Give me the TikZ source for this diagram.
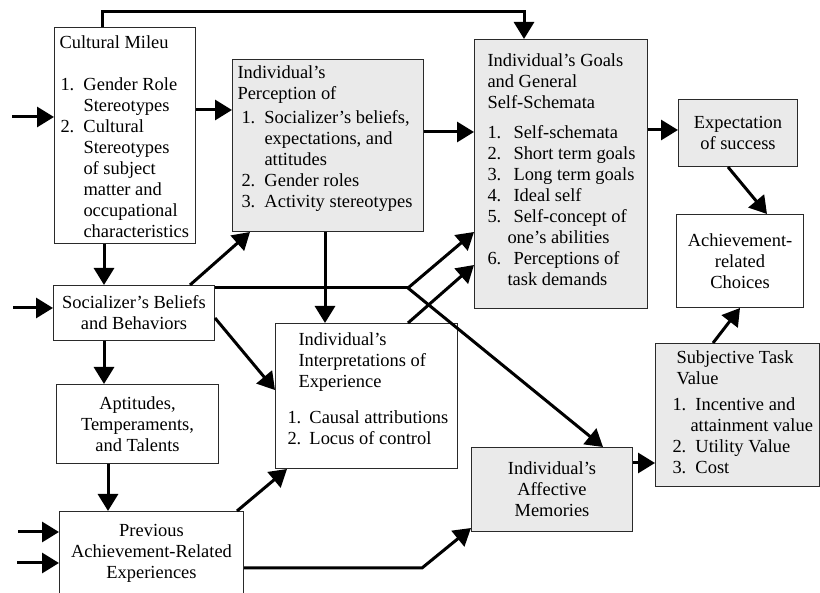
\documentclass[tikz,border=0pt]{standalone}
\usepackage{fontspec}
\setmainfont{Liberation Serif}
\usepackage{xcolor}
\usepackage{tikz}
\usetikzlibrary{arrows.meta}
\definecolor{boxgray}{HTML}{EAEAEA}
\definecolor{boxline}{HTML}{2A2A2A}
\newlength{\numw}
\newlength{\hangw}
\newcommand{\diagfont}{\fontsize{18.45}{21}\selectfont}
\newcommand{\itm}[1]{\par\hangindent=\hangw\hangafter=1\makebox[\numw][l]{#1}\ignorespaces}
\tikzset{
  boxbase/.style={draw=boxline, line width=1pt, anchor=north west, font=\diagfont},
  plainbox/.style={boxbase, inner sep=0pt, align=center},
  listbox/.style={boxbase, inner xsep=3pt},
  shaded/.style={fill=boxgray},
  link/.style={line width=3pt},
  arrow/.style={link, -{Triangle[length=17pt,width=20pt]}}
}

\begin{document}
\begin{tikzpicture}[x=1pt, y=-1pt]
\useasboundingbox (0,0) rectangle (820,593);
\clip (0,0) rectangle (820,593);

\node[listbox, inner ysep=6.3pt] (cult) at (54,27) {\parbox[t][203.4pt][t]{135pt}{%
  \setlength{\numw}{23pt}\setlength{\hangw}{23pt}%
  \leftskip=2pt \strut Cultural Mileu\par\vspace{21pt}\leftskip=3pt
  \itm{1.}Gender Role\\Stereotypes
  \itm{2.}Cultural\\Stereotypes\\of subject\\matter and\\occupational\\characteristics}};
\node[listbox, shaded, inner ysep=4pt] (perc) at (232,59) {\parbox[t][164pt][t]{185pt}{%
  \setlength{\numw}{23pt}\setlength{\hangw}{23pt}%
  \leftskip=2pt \strut Individual's\\Perception of\par\vspace{3pt}\leftskip=6pt
  \itm{1.}Socializer's beliefs,\\expectations, and\\attitudes
  \itm{2.}Gender roles
  \itm{3.}Activity stereotypes}};
\node[listbox, shaded, inner ysep=12.8pt] (goals) at (474,39) {\parbox[t][243.4pt][t]{167pt}{%
  \setlength{\numw}{26pt}\setlength{\hangw}{20pt}%
  \leftskip=10pt \strut Individual's Goals\\and General\\Self-Schemata\par\vspace{9pt}
  \itm{1.}Self-schemata
  \itm{2.}Short term goals
  \itm{3.}Long term goals
  \itm{4.}Ideal self
  \itm{5.}Self-concept of\\one's abilities
  \itm{6.}Perceptions of\\task demands}};
\node[listbox, inner ysep=7.8pt] (interp) at (275,323) {\parbox[t][129.4pt][t]{176pt}{%
  \setlength{\numw}{22pt}\setlength{\hangw}{22pt}%
  \leftskip=20pt \strut Individual's\\Interpretations of\\Experience\par\vspace{15pt}\leftskip=9pt
  \itm{1.}Causal attributions
  \itm{2.}Locus of control}};
\node[listbox, shaded, inner ysep=5.8pt] (stv) at (655,343) {\parbox[t][131.4pt][t]{158pt}{%
  \setlength{\numw}{23pt}\setlength{\hangw}{18pt}%
  \leftskip=18pt \strut Subjective Task\\Value\par\vspace{5pt}\leftskip=14pt
  \itm{1.}Incentive and\\attainment value
  \itm{2.}Utility Value
  \itm{3.}Cost}};

\node[plainbox, minimum width=161pt, minimum height=55pt] (soc) at (53,285) {Socializer's Beliefs\\and Behaviors};
\node[plainbox, minimum width=162pt, minimum height=79pt] (apt) at (56,384) {Aptitudes,\\Temperaments,\\and Talents};
\node[plainbox, minimum width=184pt, minimum height=84pt] (prev) at (59,511) {Previous\\Achievement-Related\\Experiences};
\node[plainbox, shaded, minimum width=161pt, minimum height=84pt] (affect) at (471,447) {Individual's\\Affective\\Memories};
\node[plainbox, shaded, minimum width=119pt, minimum height=67pt] (expect) at (678,99) {Expectation\\of success};
\node[plainbox, minimum width=127pt, minimum height=93pt] (choice) at (676,214) {Achievement-\\related\\Choices};

\coordinate (in1) at (12,117);
\coordinate (in2) at (13,308);
\coordinate (in3) at (18,532);
\coordinate (in4) at (17,563);
\coordinate (fork) at (408,288);

\draw[arrow] (in1) -- (in1 -| cult.west);
\draw[arrow] (in2) -- (in2 -| soc.west);
\draw[arrow] (in3) -- (in3 -| prev.west);
\draw[arrow] (in4) -- (in4 -| prev.west);
\draw[arrow] (cult.north -| 102,0) |- (524,12) -- (goals.north -| 524,0);
\draw[arrow] (cult.east |- 0,110) -- (perc.west |- 0,110);
\draw[arrow] (cult.south -| 104,0) -- (soc.north -| 104,0);
\draw[arrow] (soc.north -| 190,0) -- (perc.south -| 250,0);
\draw[arrow] (soc.south -| 104,0) -- (apt.north -| 104,0);
\draw[arrow] (soc.east |- 0,318) -- (interp.west |- 0,390);
\draw[link] (soc.east |- fork) -- (fork);
\draw[arrow] (fork) -- (goals.west |- 0,232);
\draw[arrow] (fork) -- (affect.north -| 603,0);
\draw[arrow] (apt.south -| 108,0) -- (prev.north -| 108,0);
\draw[arrow] (prev.north -| 237,0) -- (interp.south -| 287,0);
\draw[arrow] (prev.east |- 0,568) -- (422,568) -- (affect.west |- 0,528);
\draw[arrow] (perc.south -| 325,0) -- (interp.north -| 325,0);
\draw[arrow] (perc.east |- 0,132) -- (goals.west |- 0,132);
\draw[arrow] (interp.north -| 408,0) -- (goals.west |- 0,265);
\draw[arrow] (affect.east |- 0,463) -- (stv.west |- 0,463);
\draw[arrow] (goals.east |- 0,130) -- (expect.west |- 0,130);
\draw[arrow] (expect.south -| 728,0) -- (choice.north -| 767,0);
\draw[arrow] (stv.north -| 713,0) -- (choice.south -| 740,0);
\end{tikzpicture}
\end{document}
